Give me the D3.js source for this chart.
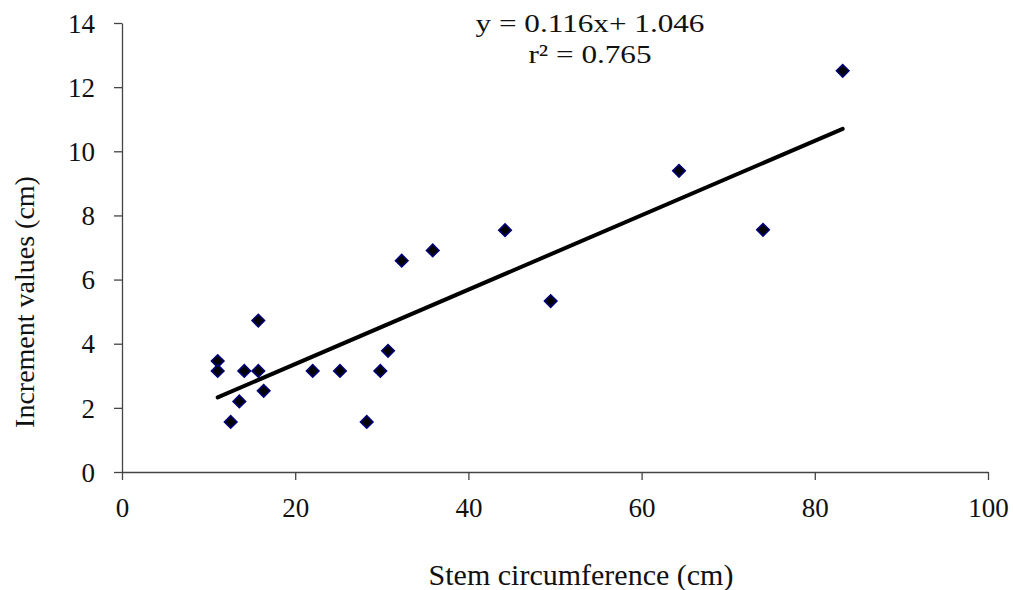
<!DOCTYPE html>
<html lang="en">
  <head>
    <meta charset="UTF-8" />
    <title>Stem circumference vs increment</title>
    <script src="https://d3js.org/d3.v7.min.js"></script>
    <style>
      body { margin: 0; background: #fff; }
      svg { display: block; font-family: "Liberation Serif", "Times New Roman", serif; }
    </style>
  </head>
  <body>
    <svg width="1013" height="590"></svg>
    <script>
      // values
      const stem = [11.05, 11.05, 12.55, 13.55, 14.12, 15.74, 15.74, 16.36, 22.02, 25.17,
                    28.26, 29.83, 30.72, 32.3, 35.88, 44.23, 49.5, 64.32, 74.02, 83.22];
      const increment = [3.46, 3.15, 1.56, 2.2, 3.15, 4.72, 3.15, 2.53, 3.15, 3.15,
                         1.56, 3.15, 3.78, 6.59, 6.91, 7.54, 5.33, 9.39, 7.55, 12.51];
      const xTicks = [0, 20, 40, 60, 80, 100];
      const yTicks = [0, 2, 4, 6, 8, 10, 12, 14];
      const slope = 0.116;
      const intercept = 1.046;
      const equationLines = ['y = 0.116x+ 1.046', 'r² = 0.765'];

      const svg = d3.select('svg');
      const x = d3.scaleLinear().domain([0, 100]).range([122, 988]);
      const y = d3.scaleLinear().domain([0, 14]).range([472, 23]);

      const xAxis = svg.append('g')
        .attr('transform', `translate(0,${y(0)})`)
        .call(d3.axisBottom(x).tickValues(xTicks).tickSize(8).tickPadding(13).tickSizeOuter(0));
      const yAxis = svg.append('g')
        .attr('transform', `translate(${x(0)},0)`)
        .call(d3.axisLeft(y).tickValues(yTicks).tickSize(8).tickPadding(19).tickSizeOuter(0));

      [xAxis, yAxis].forEach((g) => {
        g.attr('font-family', null).attr('font-size', null);
        g.select('.domain').attr('stroke', '#444').attr('stroke-width', 1.3);
        g.selectAll('.tick line').attr('stroke', '#444').attr('stroke-width', 1.3);
        g.selectAll('.tick text').attr('fill', '#111').style('font-size', '27px');
      });
      xAxis.selectAll('.tick text').attr('dy', '0.9em');
      yAxis.selectAll('.tick text').attr('dy', '0.34em');

      // trend line over the range of the data
      const xMin = d3.min(stem);
      const xMax = d3.max(stem);
      svg.append('line')
        .attr('x1', x(xMin)).attr('y1', y(slope * xMin + intercept))
        .attr('x2', x(xMax)).attr('y2', y(slope * xMax + intercept))
        .attr('stroke', '#000').attr('stroke-width', 4).attr('stroke-linecap', 'round');

      const pts = stem.map((d, i) => ({ x: d, y: increment[i] }));
      svg.append('g').selectAll('path')
        .data(pts)
        .join('path')
        .attr('d', d3.symbol(d3.symbolSquare, 78))
        .attr('transform', (d) => `translate(${x(d.x)},${y(d.y)}) rotate(45)`)
        .attr('fill', '#000')
        .attr('stroke', '#00007a')
        .attr('stroke-width', 1.6);

      // equation text is drawn a bit stretched sideways, like the original
      svg.append('g')
        .attr('transform', 'translate(590,0) scale(1.2,1)')
        .selectAll('text')
        .data(equationLines)
        .join('text')
        .attr('x', 0)
        .attr('y', (d, i) => 32 + i * 31)
        .attr('text-anchor', 'middle')
        .style('font-size', '26px')
        .attr('fill', '#111')
        .text((d) => d);

      svg.append('text')
        .attr('x', 581).attr('y', 585)
        .attr('text-anchor', 'middle')
        .style('font-size', '30px')
        .attr('fill', '#111')
        .text('Stem circumference (cm)');

      svg.append('text')
        .attr('transform', 'translate(34,302) rotate(-90)')
        .attr('text-anchor', 'middle')
        .style('font-size', '28px')
        .attr('fill', '#111')
        .text('Increment values (cm)');
    </script>
  </body>
</html>
